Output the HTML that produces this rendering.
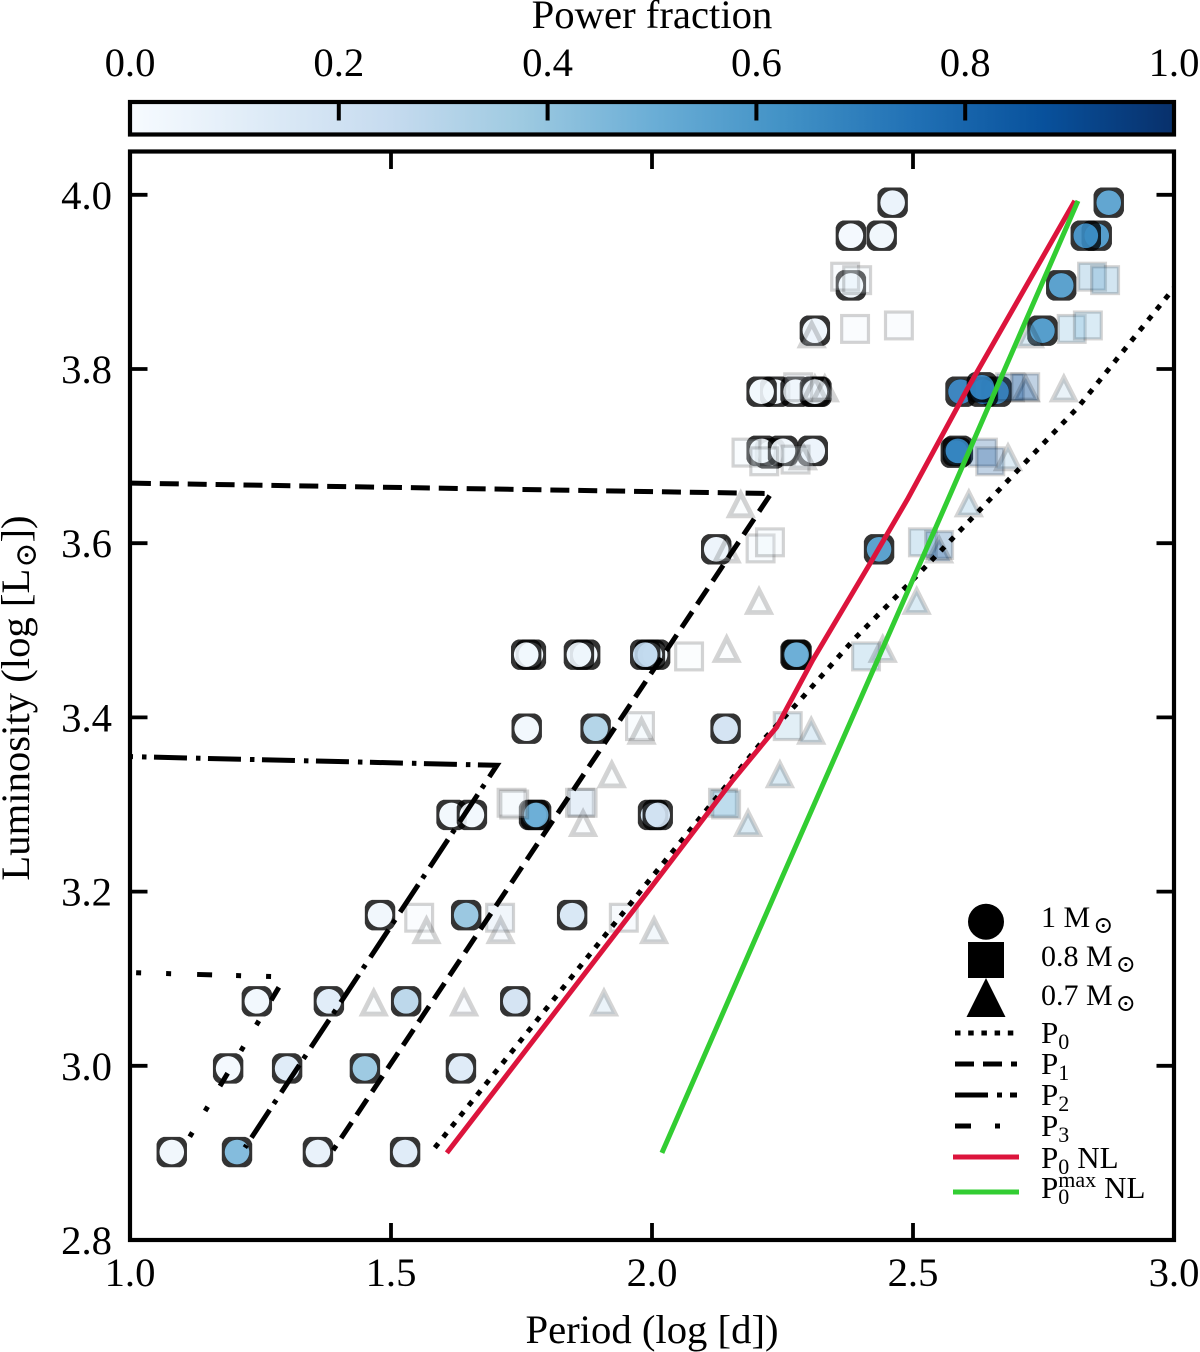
<!DOCTYPE html>
<html lang="en">
<head>
<meta charset="utf-8">
<title>Period-luminosity chart</title>
<style>
html,body{margin:0;padding:0;background:#fff;}
svg{display:block;}
text{font-family:"Liberation Serif","DejaVu Serif","DejaVu Sans",serif;fill:#000;}
</style>
</head>
<body>
<svg id="chart" xmlns="http://www.w3.org/2000/svg" width="1200" height="1352" viewBox="0 0 1200 1352">
  <defs>
    <linearGradient id="cbar-gradient" x1="0" y1="0" x2="1" y2="0"></linearGradient>
  </defs>
  <rect x="0" y="0" width="1200" height="1352" fill="#fff"/>

  <g id="colorbar">
    <text x="652" y="28" font-size="40.7" text-anchor="middle">Power fraction</text>
    <rect x="130" y="102" width="1044" height="32.5" fill="url(#cbar-gradient)" stroke="#000" stroke-width="4.2"/>
  </g>

  <g id="marks-circles"></g>
  <g id="marks-squares"></g>
  <g id="marks-triangles"></g>
  <g id="lines"></g>

  <g id="axes">
    <rect x="130" y="151.5" width="1044" height="1088.5" fill="none" stroke="#000" stroke-width="4.2"/>
    <text x="652" y="1343" font-size="40.7" text-anchor="middle">Period (log [d])</text>
    <text transform="translate(29,698) rotate(-90)" font-size="40.7" text-anchor="middle">Luminosity (log [L<tspan dy="7" font-size="30" dx="1">⊙</tspan><tspan dy="-7">])</tspan></text>
  </g>

  <g id="legend">
    <circle cx="986" cy="921.7" r="18" fill="#000"/>
    <rect x="968" y="942" width="36" height="36" fill="#000"/>
    <polygon points="986,978 1005.5,1017 966.5,1017" fill="#000"/>

    <text x="1041" y="927" font-size="30">1 M<tspan dy="6" dx="3" font-size="24">⊙</tspan></text>
    <text x="1041" y="966" font-size="30">0.8 M<tspan dy="6" dx="3" font-size="24">⊙</tspan></text>
    <text x="1041" y="1005" font-size="30">0.7 M<tspan dy="6" dx="3" font-size="24">⊙</tspan></text>

    <line x1="955" y1="1033" x2="1016" y2="1033" stroke="#000" stroke-width="5" stroke-dasharray="5.5 7.7"/>
    <line x1="955" y1="1064" x2="1017" y2="1064" stroke="#000" stroke-width="5" stroke-dasharray="19 9"/>
    <line x1="955" y1="1095" x2="1017" y2="1095" stroke="#000" stroke-width="5" stroke-dasharray="33 9 5 8"/>
    <line x1="955" y1="1126" x2="1017" y2="1126" stroke="#000" stroke-width="5" stroke-dasharray="16 24 5 25"/>
    <line x1="953" y1="1157" x2="1019" y2="1157" stroke="#dc143c" stroke-width="5"/>
    <line x1="953" y1="1192" x2="1019" y2="1192" stroke="#32cd32" stroke-width="5"/>

    <text x="1041" y="1043" font-size="31">P<tspan dy="6" font-size="22">0</tspan></text>
    <text x="1041" y="1074" font-size="31">P<tspan dy="6" font-size="22">1</tspan></text>
    <text x="1041" y="1105" font-size="31">P<tspan dy="6" font-size="22">2</tspan></text>
    <text x="1041" y="1136" font-size="31">P<tspan dy="6" font-size="22">3</tspan></text>
    <text x="1041" y="1168" font-size="31">P<tspan dy="6" font-size="22">0</tspan><tspan dy="-6" dx="8">NL</tspan></text>
    <text x="1041" y="1198" font-size="31">P<tspan dy="6" font-size="22">0</tspan><tspan dy="-17" dx="-11" font-size="22">max</tspan><tspan dy="11" dx="8">NL</tspan></text>
  </g>
</svg>

<script>
// Axis tick labels
const xTickLabels = ["1.0", "1.5", "2.0", "2.5", "3.0"];
const yTickLabels = ["2.8", "3.0", "3.2", "3.4", "3.6", "3.8", "4.0"];
const cbarTickLabels = ["0.0", "0.2", "0.4", "0.6", "0.8", "1.0"];

// Matplotlib Blues colormap anchors
const bluesColors = ["#f7fbff", "#deebf7", "#c6dbef", "#9ecae1", "#6baed6", "#4292c6", "#2171b5", "#08519c", "#08306b"];

// 1 Msun models
const circlePeriod = [1.080,1.205,1.360,1.527, 1.188,1.301,1.450,1.634, 1.243,1.381,1.529,1.738, 1.479,1.644,1.847, 1.616,1.655,1.774,1.778,2.002,2.011, 1.760,1.892,2.141, 1.768,1.759,1.872,1.860, 2.006,1.996,1.987, 2.275,2.277, 2.123,2.435, 2.226,2.210,2.251,2.308, 2.582,2.586, 2.236,2.210,2.275,2.315,2.312, 2.591,2.660,2.634,2.632, 2.312,2.748, 2.381,2.784, 2.381,2.440,2.852,2.831, 2.461,2.875];
const circleLum = [2.901,2.901,2.901,2.901, 2.997,2.997,2.997,2.997, 3.074,3.074,3.074,3.074, 3.173,3.173,3.173, 3.288,3.288,3.288,3.288,3.288,3.288, 3.387,3.387,3.387, 3.472,3.472,3.472,3.472, 3.472,3.472,3.472, 3.472,3.472, 3.593,3.593, 3.703,3.706,3.706,3.706, 3.704,3.706, 3.774,3.774,3.774,3.774,3.774, 3.774,3.774,3.774,3.779, 3.844,3.844, 3.896,3.896, 3.953,3.953,3.953,3.953, 3.991,3.991];
const circleFrac = [0.04,0.47,0.08,0.13, 0.02,0.13,0.40,0.14, 0.03,0.125,0.30,0.20, 0.04,0.41,0.17, 0.03,0.03,0.50,0.50,0.18,0.20, 0.03,0.33,0.20, 0.03,0.03,0.03,0.05, 0.03,0.12,0.27, 0.50,0.50, 0.06,0.60, 0.04,0.04,0.04,0.06, 0.65,0.68, 0.03,0.03,0.03,0.03,0.05, 0.72,0.68,0.80,0.68, 0.05,0.62, 0.03,0.60, 0.02,0.04,0.62,0.66, 0.07,0.58];

// 0.8 Msun models
const squarePeriod = [1.554,1.709,1.946, 1.731,1.736,1.862,1.867,2.136,2.142, 1.977,2.260, 2.071,2.410, 2.208,2.226,2.519,2.550, 2.181,2.215,2.275,2.634,2.648, 2.280,2.686,2.715, 2.389,2.473,2.804,2.835, 2.370,2.393,2.843,2.868];
const squareLum = [3.170,3.170,3.170, 3.302,3.300,3.302,3.302,3.302,3.300, 3.390,3.390, 3.470,3.470, 3.594,3.601,3.601,3.598, 3.704,3.694,3.696,3.704,3.694, 3.779,3.779,3.779, 3.846,3.850,3.846,3.850, 3.906,3.902,3.906,3.902];
const squareFrac = [0.05,0.25,0.12, 0.06,0.06,0.25,0.25,0.50,0.50, 0.07,0.42, 0.04,0.50, 0.07,0.07,0.55,0.85, 0.07,0.07,0.07,0.90,0.90, 0.08,0.90,0.90, 0.05,0.05,0.50,0.50, 0.05,0.07,0.60,0.60];

// 0.7 Msun models
const triPeriod = [1.467,1.640,1.908, 1.568,1.710,2.004, 1.868,2.184, 1.923,2.245, 1.980,2.305, 2.143,2.442, 2.205,2.507, 2.143,2.550, 2.170,2.607, 2.289,2.682, 2.312,2.331,2.716,2.789, 2.306,2.724];
const triLum = [3.074,3.074,3.074, 3.157,3.157,3.157, 3.280,3.280, 3.336,3.336, 3.386,3.386, 3.480,3.480, 3.535,3.535, 3.594,3.594, 3.646,3.647, 3.701,3.700, 3.779,3.779,3.779,3.779, 3.841,3.841];
const triFrac = [0.03,0.08,0.32, 0.04,0.14,0.22, 0.06,0.50, 0.03,0.50, 0.06,0.45, 0.03,0.38, 0.03,0.50, 0.06,0.90, 0.04,0.50, 0.08,0.45, 0.05,0.05,0.90,0.35, 0.06,0.50];

// Period-luminosity relations
const p0Period = [1.584,1.992,2.136,2.216,2.284,2.389,2.508,2.623,2.816,3.000];
const p0Lum = [2.906,3.211,3.317,3.376,3.420,3.491,3.563,3.635,3.756,3.893];
const p1Period = [1.000,2.228,1.389];
const p1Lum = [3.669,3.657,2.903];
const p2Period = [1.000,1.703,1.220];
const p2Lum = [3.355,3.345,2.906];
const p3Period = [1.006,1.297,1.102];
const p3Lum = [3.107,3.102,2.906];
const p0nlPeriod = [1.607,1.992,2.155,2.239,2.308,2.418,2.489,2.603,2.810];
const p0nlLum = [2.900,3.200,3.328,3.389,3.466,3.577,3.650,3.776,3.993];
const p0maxPeriod = [2.019,2.249,2.567,2.816];
const p0maxLum = [2.900,3.216,3.650,3.993];

const NS = "http://www.w3.org/2000/svg";
function xAxis(p){ return 130 + (p - 1) * 522; }
function yAxis(l){ return 1240 - (l - 2.8) * 871; }
function cbarAxis(f){ return 130 + f * 1044; }

function hexToRgb(h){ return [1,3,5].map(function(i){ return parseInt(h.substr(i,2),16); }); }
function blues(f){
  const t = Math.max(0, Math.min(1, f)) * (bluesColors.length - 1);
  const i = Math.min(Math.floor(t), bluesColors.length - 2);
  const a = hexToRgb(bluesColors[i]), b = hexToRgb(bluesColors[i + 1]);
  const u = t - i;
  return "rgb(" + a.map(function(v, k){ return Math.round(v + (b[k] - v) * u); }).join(",") + ")";
}
function make(tag, attrs, parent){
  const el = document.createElementNS(NS, tag);
  for (const k in attrs) el.setAttribute(k, attrs[k]);
  parent.appendChild(el);
  return el;
}

// colorbar gradient
const grad = document.getElementById("cbar-gradient");
bluesColors.forEach(function(c, i){
  make("stop", {offset: i / (bluesColors.length - 1), "stop-color": c}, grad);
});

// colorbar ticks and labels
const cbarGroup = document.getElementById("colorbar");
cbarTickLabels.forEach(function(lbl){
  const f = parseFloat(lbl);
  const x = cbarAxis(f);
  if (f > 0 && f < 1) {
    const t = make("line", {x1: x, y1: 102, x2: x, y2: 120.5, stroke: "#000", "stroke-width": 4}, cbarGroup);
    
    
  }
  const txt = make("text", {x: x, y: 76, "font-size": 40.7, "text-anchor": "middle"}, cbarGroup);
  txt.textContent = lbl;
  
  
});

// axis ticks and labels
const axesGroup = document.getElementById("axes");
xTickLabels.forEach(function(lbl){
  const v = parseFloat(lbl);
  const x = xAxis(v);
  if (v > 1 && v < 3) {
    const b = make("line", {x1: x, y1: 1240, x2: x, y2: 1223, stroke: "#000", "stroke-width": 3.8}, axesGroup);
    
    
    const t = make("line", {x1: x, y1: 151.5, x2: x, y2: 169, stroke: "#000", "stroke-width": 3.8}, axesGroup);
    
    
  }
  const txt = make("text", {x: x, y: 1286, "font-size": 40.7, "text-anchor": "middle"}, axesGroup);
  txt.textContent = lbl;
  
  
});
yTickLabels.forEach(function(lbl){
  const v = parseFloat(lbl);
  const y = yAxis(v);
  if (v > 2.8) {
    const l = make("line", {x1: 130, y1: y, x2: 147.5, y2: y, stroke: "#000", "stroke-width": 3.8}, axesGroup);
    
    
    const r = make("line", {x1: 1174, y1: y, x2: 1156.5, y2: y, stroke: "#000", "stroke-width": 3.8}, axesGroup);
    
    
  }
  const txt = make("text", {x: 112, y: y + 14, "font-size": 40.7, "text-anchor": "end"}, axesGroup);
  txt.textContent = lbl;
  
  
});

// circle markers: rounded dark ring with a filled disc
const circleGroup = document.getElementById("marks-circles");
circlePeriod.forEach(function(p, i){
  const cx = xAxis(p), cy = yAxis(circleLum[i]);
  const R = 15.2, c = 7, r = 12.3;
  const g = make("g", {}, circleGroup);
  
  
  make("circle", {cx: cx, cy: cy, r: r + 0.3, fill: blues(circleFrac[i]), "fill-opacity": 0.9}, g);
  const d = "M" + (cx - R + c) + " " + (cy - R) +
    "H" + (cx + R - c) + "Q" + (cx + R - 1.5) + " " + (cy - R + 1.5) + " " + (cx + R) + " " + (cy - R + c) +
    "V" + (cy + R - c) + "Q" + (cx + R - 1.5) + " " + (cy + R - 1.5) + " " + (cx + R - c) + " " + (cy + R) +
    "H" + (cx - R + c) + "Q" + (cx - R + 1.5) + " " + (cy + R - 1.5) + " " + (cx - R) + " " + (cy + R - c) +
    "V" + (cy - R + c) + "Q" + (cx - R + 1.5) + " " + (cy - R + 1.5) + " " + (cx - R + c) + " " + (cy - R) + "Z" +
    "M" + (cx - r) + " " + cy + "A" + r + " " + r + " 0 1 0 " + (cx + r) + " " + cy +
    "A" + r + " " + r + " 0 1 0 " + (cx - r) + " " + cy + "Z";
  make("path", {d: d, fill: "#000", "fill-opacity": 0.8, "fill-rule": "evenodd"}, g);
});

// square markers
const squareGroup = document.getElementById("marks-squares");
squarePeriod.forEach(function(p, i){
  const cx = xAxis(p), cy = yAxis(squareLum[i]);
  const s = make("rect", {x: cx - 13.4, y: cy - 13.4, width: 26.8, height: 26.8, fill: blues(squareFrac[i]), "fill-opacity": 0.25, stroke: "#000", "stroke-opacity": 0.17, "stroke-width": 3.2}, squareGroup);
  
  
});

// triangle markers
const triGroup = document.getElementById("marks-triangles");
triPeriod.forEach(function(p, i){
  const cx = xAxis(p), cy = yAxis(triLum[i]);
  const pts = cx + "," + (cy - 9.6) + " " + (cx + 11.3) + "," + (cy + 12.7) + " " + (cx - 11.3) + "," + (cy + 12.7);
  const t = make("polygon", {points: pts, fill: blues(triFrac[i]), "fill-opacity": 0.25, stroke: "#000", "stroke-opacity": 0.17, "stroke-width": 4.8, "stroke-miterlimit": 10}, triGroup);
  
  
});

// lines
const lineGroup = document.getElementById("lines");
function pathFrom(ps, ls){
  return ps.map(function(p, i){ return (i ? "L" : "M") + xAxis(p) + " " + yAxis(ls[i]); }).join("");
}
const p0Line = make("path", {d: pathFrom(p0Period, p0Lum), fill: "none", stroke: "#000", "stroke-width": 5, "stroke-dasharray": "5.5 8"}, lineGroup);


const p1Line = make("path", {d: pathFrom(p1Period, p1Lum), fill: "none", stroke: "#000", "stroke-width": 5, "stroke-dasharray": "19 8.9", "stroke-dashoffset": 26, "stroke-linejoin": "miter"}, lineGroup);


const p2Line = make("path", {d: pathFrom(p2Period, p2Lum), fill: "none", stroke: "#000", "stroke-width": 5, "stroke-dasharray": "33 9 4.5 7.5", "stroke-dashoffset": 30}, lineGroup);


const p3Line = make("path", {d: pathFrom(p3Period, p3Lum), fill: "none", stroke: "#000", "stroke-width": 5, "stroke-dasharray": "15 24 5 25 5 26", "stroke-dashoffset": 36}, lineGroup);


const redLine = make("path", {d: pathFrom(p0nlPeriod, p0nlLum), fill: "none", stroke: "#dc143c", "stroke-width": 5, "stroke-linejoin": "round"}, lineGroup);


const greenLine = make("path", {d: pathFrom(p0maxPeriod, p0maxLum), fill: "none", stroke: "#32cd32", "stroke-width": 5, "stroke-linejoin": "round"}, lineGroup);


</script>
</body>
</html>
